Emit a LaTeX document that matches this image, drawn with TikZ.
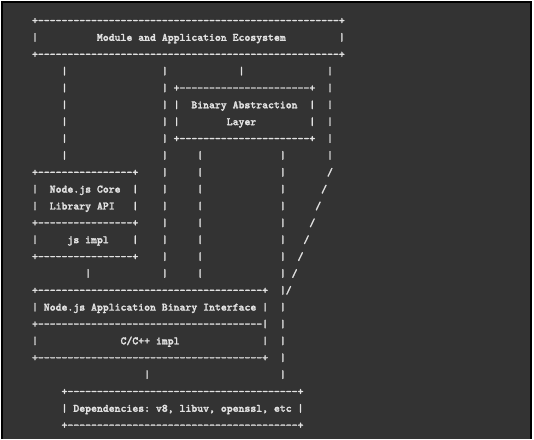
\documentclass[tikz,border=0pt]{standalone}
\usepackage{fontspec}
\usepackage{tikz}
\newfontfamily\asciifont{lmmonolt10-bold.otf}[FakeBold=2]
\definecolor{termbg}{RGB}{51,51,51}
\definecolor{termfg}{RGB}{226,226,226}
\newcommand{\dsh}[1]{\foreach \k in {1,...,#1}{-\kern0pt}}
\tikzset{ch/.style={anchor=base west, inner sep=0pt, outer sep=0pt, text=termfg,
  font=\asciifont\fontsize{11.24}{13}\selectfont\frenchspacing}}

\begin{document}
\begin{tikzpicture}[x=1pt,y=1pt]
\useasboundingbox (0,0) rectangle (534,-439);
\fill[white] (0,0) rectangle (534,-439);
\fill[black] (1,-1) rectangle (532,-439);
\fill[termbg] (3,-3) rectangle (530,-439);
% character grid: x = column, y = row
\begin{scope}[shift={(32.05,-7.14)}, x=5.9pt, y=-16.86pt]
  % Module and Application Ecosystem
  \node[ch] (ecotop) at (0,1) {+\dsh{51}+};
  \node[ch] (ecol) at (0,2) {|};
  \node[ch] (eco) at (11,2) {Module and Application Ecosystem};
  \node[ch] (ecor) at (52,2) {|};
  \node[ch] (ecobot) at (0,3) {+\dsh{51}+};
  % Binary Abstraction Layer
  \foreach \r in {5,8}
    \node[ch] (balh\r) at (24,\r) {+\dsh{22}+};
  \foreach \r in {6,7} {
    \node[ch] (ball\r) at (24,\r) {|};
    \node[ch] (balr\r) at (47,\r) {|};
  }
  \node[ch] (bal) at (27,6) {Binary Abstraction};
  \node[ch] (bal2) at (33,7) {Layer};
  % Node.js Core Library API
  \foreach \r in {10,13,15}
    \node[ch] (coreh\r) at (0,\r) {+\dsh{16}+};
  \foreach \r in {11,12,14} {
    \node[ch] (corel\r) at (0,\r) {|};
    \node[ch] (corer\r) at (17,\r) {|};
  }
  \node[ch] (core) at (3,11) {Node.js Core};
  \node[ch] (core2) at (3,12) {Library API};
  \node[ch] (js) at (6,14) {js impl};
  % Node.js Application Binary Interface
  \foreach \r in {17,21}
    \node[ch] (abih\r) at (0,\r) {+\dsh{38}+};
  \node[ch] (abih19) at (0,19) {+\dsh{38}|};
  \foreach \r in {18,20} {
    \node[ch] (abil\r) at (0,\r) {|};
    \node[ch] (abir\r) at (39,\r) {|};
  }
  \node[ch] (abi) at (2,18) {Node.js Application Binary Interface};
  \node[ch] (cimpl) at (15,20) {C/C++ impl};
  % Dependencies
  \foreach \r in {23,25}
    \node[ch] (deph\r) at (5,\r) {+\dsh{39}+};
  \node[ch] (depl) at (5,24) {|};
  \node[ch] (depr) at (45,24) {|};
  \node[ch] (deps) at (7,24) {Dependencies: v8, libuv, openssl, etc};
  % links between the layers
  \foreach \r in {4,...,9}
    \node[ch] (pa\r) at (5,\r) {|};
  \foreach \r in {4,...,16}
    \node[ch] (pb\r) at (22,\r) {|};
  \node[ch] (pc4) at (35,4) {|};
  \foreach \r in {4,...,9}
    \node[ch] (pd\r) at (50,\r) {|};
  \foreach \r in {9,...,16}
    \node[ch] (pe\r) at (28,\r) {|};
  \foreach \r in {9,...,22}
    \node[ch] (pf\r) at (42,\r) {|};
  \foreach \r in {10,...,17}
    \node[ch] (sl\r) at (60-\r,\r) {/};
  \node[ch] (pg16) at (9,16) {|};
  \node[ch] (ph22) at (19,22) {|};
\end{scope}
\end{tikzpicture}
\end{document}
